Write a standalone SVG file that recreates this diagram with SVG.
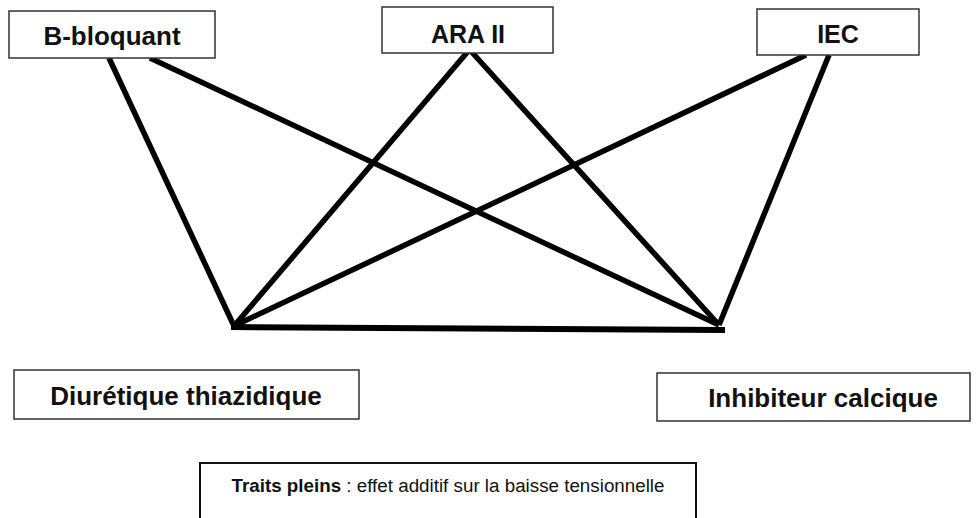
<svg xmlns="http://www.w3.org/2000/svg" width="976" height="518" viewBox="0 0 976 518">
<style>
.box{fill:#fff;stroke:#333;stroke-width:1.5}
.lbl{font-family:"Liberation Sans",Arial,sans-serif;font-weight:bold;font-size:25px;fill:#111;text-anchor:middle}
.edge{stroke:#000;stroke-width:5.5;stroke-linecap:butt;fill:none}
.leg{font-family:"Liberation Sans",Arial,sans-serif;font-size:18.8px;fill:#111}
</style>
<rect width="976" height="518" fill="#fff"/>
<g id="connectors">
<line class="edge" x1="109" y1="58" x2="234" y2="326"/>
<line class="edge" x1="150" y1="58" x2="719" y2="325"/>
<line class="edge" x1="470" y1="49" x2="234" y2="326"/>
<line class="edge" x1="469" y1="49" x2="719" y2="325"/>
<line class="edge" x1="806" y1="55" x2="234" y2="326"/>
<line class="edge" x1="829" y1="55" x2="719" y2="325"/>
<line class="edge" x1="231" y1="327" x2="725" y2="330" style="stroke-width:6"/>
</g>
<g id="n-bbloquant">
<rect class="box" x="9" y="11" width="206" height="47"/>
<text class="lbl" x="112" y="45" style="font-size:26px">B-bloquant</text>
</g>
<g id="n-ara">
<rect class="box" x="382" y="7" width="171" height="46"/>
<text class="lbl" x="468" y="43">ARA II</text>
</g>
<g id="n-iec">
<rect class="box" x="757" y="9" width="162" height="46"/>
<text class="lbl" x="838" y="43">IEC</text>
</g>
<g id="n-diuretique">
<rect class="box" x="14" y="370" width="345" height="49"/>
<text class="lbl" x="186" y="405" style="font-size:26px">Diurétique thiazidique</text>
</g>
<g id="n-inhibiteur">
<rect class="box" x="657" y="373" width="313" height="48"/>
<text class="lbl" x="823" y="407" style="font-size:26px">Inhibiteur calcique</text>
</g>
<g id="legend">
<rect x="200" y="463" width="496" height="70" fill="#fff" stroke="#111" stroke-width="2"/>
<text class="leg" x="448" y="492" text-anchor="middle"><tspan font-weight="bold">Traits pleins</tspan> : effet additif sur la baisse tensionnelle</text>
</g>
</svg>
